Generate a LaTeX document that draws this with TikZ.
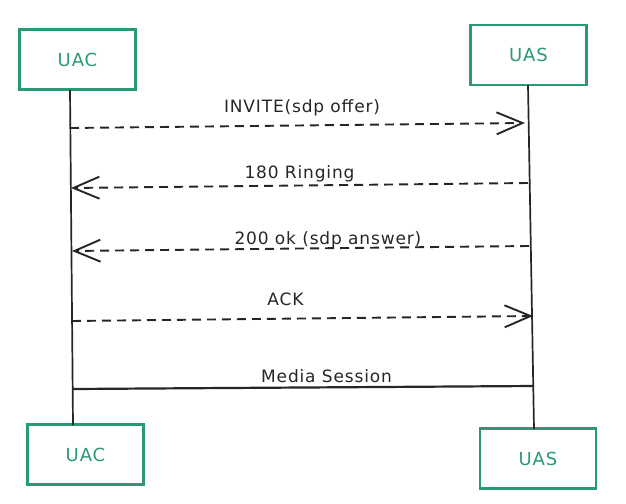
\documentclass[tikz,border=0pt]{standalone}
\usepackage{fontspec}
\setmainfont{DejaVu Sans}
\newfontfamily\hand[LetterSpace=5]{DejaVu Sans}
\usetikzlibrary{arrows.meta,positioning}
\definecolor{boxgreen}{HTML}{2A9A70}
\definecolor{ink}{HTML}{262626}

\begin{document}
\begin{tikzpicture}[x=1pt,y=-1pt,>={Straight Barb[length=26pt,width=22pt]},auto,font=\hand\fontsize{17}{20}\selectfont]
			\tikzstyle{agent}=[draw=boxgreen,line width=2.1pt,text=boxgreen,minimum width=116pt,minimum height=60pt,inner sep=0pt,font=\hand\fontsize{18}{21}\selectfont]
			\tikzstyle{msg}=[->,draw=ink,line width=1.9pt,dash pattern=on 9pt off 6pt]
			\tikzstyle{lbl}=[anchor=base,text=ink,inner sep=0pt]
			\useasboundingbox (0,0) rectangle (626,503);
			\node[agent]    (UAC)  at (77.5,59.5)   {UAC};
			\node[agent]    (UAS)  at (528.5,55)    {UAS};
			\node[agent]    (UACb) at (85.5,454.5)  {UAC};
			\node[agent]    (UASb) at (538,458.5)   {UAS};
			% lifelines
			\coordinate (UACt) at (70,90);
			\coordinate (UACe) at (73,425);
			\coordinate (UASt) at (528,85);
			\coordinate (UASe) at (534,429);
			% message ends
			\coordinate (inv1) at (70,128);
			\coordinate (inv2) at (525,123);
			\coordinate (ring1) at (528,183);
			\coordinate (ring2) at (71,188);
			\coordinate (ok1) at (529,246);
			\coordinate (ok2) at (72,251);
			\coordinate (ack1) at (72,321);
			\coordinate (ack2) at (533,316);
			\coordinate (med1) at (73,389);
			\coordinate (med2) at (534,386);
			\path[draw=ink,line width=1.7pt]
			(UACt) edge (UACe)
			(UASt) edge (UASe);
			\path
			(inv1) edge[msg] node[lbl,pos=0.51,yshift=13pt] {INVITE(sdp offer)} (inv2)
			(ring1) edge[msg] node[lbl,pos=0.5,yshift=7pt] {180 Ringing} (ring2)
			(ok1) edge[msg] node[lbl,pos=0.44,yshift=4pt] {200 ok (sdp answer)} (ok2)
			(ack1) edge[msg] node[lbl,pos=0.463,yshift=13pt] {ACK} (ack2)
			(med1) edge[draw=ink,line width=2.2pt] node[lbl,pos=0.55,yshift=5pt] {Media Session} (med2);
		\end{tikzpicture}
\end{document}
